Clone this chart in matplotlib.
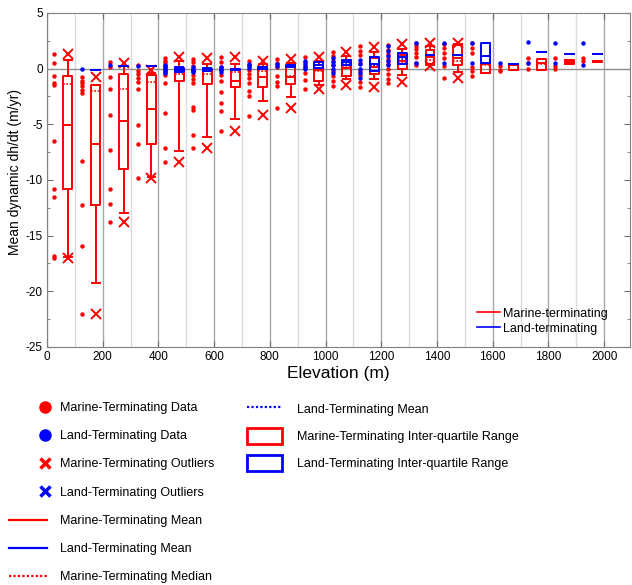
import matplotlib
matplotlib.use("Agg")
import matplotlib.pyplot as plt
from matplotlib.lines import Line2D
from matplotlib.patches import Rectangle
from matplotlib.legend_handler import HandlerLine2D
from matplotlib.ticker import MultipleLocator

plt.rcParams['font.family'] = ['Liberation Sans', 'DejaVu Sans']
plt.rcParams['axes.unicode_minus'] = False

# bins of 100 m, 0-2000
bin_starts = list(range(0, 2000, 100))

# individual glacier values per bin (marine / land)
marine_data = [
    [1.35, 0.5, -0.65, -1.3, -1.5, -6.5, -10.8, -11.5, -16.85, -17.0],
    [-0.8, -1.1, -1.3, -1.6, -1.9, -2.2, -8.3, -12.3, -15.95, -22.0],
    [0.55, 0.15, -0.8, -1.8, -4.2, -7.3, -10.85, -12.2, -13.8],
    [0.3, -0.2, -0.5, -0.85, -1.25, -1.85, -5.1, -6.8, -9.8],
    [0.95, 0.7, 0.5, 0.25, 0.0, -0.3, -0.55, -1.3, -3.95, -7.1, -8.4],
    [0.9, 0.55, 0.2, -0.2, -0.55, -0.9, -1.3, -3.45, -3.75, -5.95, -7.1],
    [1.0, 0.6, 0.1, -0.55, -1.15, -2.1, -3.1, -3.85, -5.6],
    [0.65, 0.3, -0.1, -0.45, -0.85, -1.3, -2.05, -2.45, -4.25],
    [0.9, 0.5, 0.1, -0.7, -1.2, -1.55, -3.5],
    [1.0, 0.6, 0.2, -0.4, -1.0, -1.8],
    [1.5, 1.1, 0.7, 0.3, -0.2, -0.7, -1.1, -1.6],
    [2.0, 1.6, 1.2, 0.5, -0.2, -0.6, -1.2, -1.7],
    [2.1, 1.7, 1.3, 0.9, 0.4, 0.0, -0.5, -0.9, -1.3],
    [2.3, 2.05, 1.8, 1.4, 1.0, 0.5, 0.3],
    [2.2, 1.85, 1.4, 0.95, 0.2, -0.85],
    [2.3, 1.85, 1.4, 0.1, -0.25, -0.7],
    [0.2, -0.1, -0.25],
    [0.95, 0.5, 0.0],
    [0.95, 0.2, -0.05],
    [0.95, 0.65],
]
land_data = [
    [],
    [-0.05],
    [0.3],
    [0.25],
    [0.35, 0.2, 0.05, -0.1, -0.25, -0.4],
    [0.1, 0.0, -0.1, -0.2, -0.35],
    [0.15, 0.0, -0.15, -0.35],
    [0.4, 0.2, 0.05],
    [0.45, 0.25],
    [0.65, 0.4, 0.15, 0.0],
    [0.95, 0.6, 0.3, 0.0, -0.4],
    [0.8, 0.4, 0.0, -0.4, -0.85],
    [2.0, 1.6, 1.1, 0.7, 0.35],
    [2.3, 0.5],
    [2.25, 0.5],
    [2.3, 0.5],
    [0.5],
    [2.35, 0.5],
    [2.3, 0.5],
    [2.25, 0.35],
]

# marine box statistics per bin
m_q1 = [-10.8, -12.25, -9.05, -6.8, -1.1, -1.4, -1.65, -1.65, -1.4, -1.1,
        -0.7, -0.5, -0.05, 0.45, 0.35, -0.4, -0.1, -0.1, 0.45, 0.6]
m_q3 = [-0.7, -1.5, -0.5, -0.55, 0.0, -0.05, 0.0, 0.1, 0.2, 0.35,
        0.8, 0.95, 1.25, 1.65, 2.1, 0.5, 0.45, 0.9, 0.75, 0.68]
m_med = [-1.4, -2.0, -1.8, -1.2, -0.5, -0.45, -0.3, -0.2, -0.7, -0.2,
         0.15, 0.2, 0.5, 0.8, 0.65, 0.3, 0.3, 0.45, 0.6, 0.63]
m_mean = [-5.1, -6.8, -4.7, -3.6, -0.2, -0.15, -1.1, -0.8, -0.75, -0.1,
          0.05, 0.1, 0.7, 1.0, 0.95, 0.45, 0.35, 0.5, 0.6, 0.63]
m_lo = [-16.9, -19.25, -13.0, -9.75, -7.45, -6.15, -4.5, -2.9, -2.6, -1.45,
        -0.9, -0.9, -0.6, 0.3, -0.35, -0.4, -0.1, -0.1, 0.45, 0.6]
m_hi = [0.8, -1.5, 0.25, -0.4, 0.7, 0.45, 0.45, 0.4, 0.5, 0.7,
        1.1, 1.45, 1.8, 2.0, 2.2, 0.5, 0.45, 0.9, 0.75, 0.68]
m_out = [[1.35, -17.0], [-0.75, -22.0], [0.5, -13.8], [-0.15, -9.85],
         [1.05, -8.4], [0.95, -7.1], [1.0, -5.6], [0.7, -4.2],
         [0.9, -3.55], [1.05, -1.8], [1.45, -1.45], [1.95, -1.65],
         [2.2, -1.2], [2.3, 0.2], [2.3, -0.85], [], [], [], [], []]

# land box statistics (bins 1-19)
l_bins = list(range(1, 20))
l_q1 = [-0.1, 0.25, 0.2, -0.2, -0.15, -0.1, 0.0, 0.1, 0.05, 0.35,
        -0.25, 0.45, 1.25, 1.2, 0.5, 0.45, 1.45, 1.35, 1.35]
l_q3 = [-0.1, 0.25, 0.2, 0.05, 0.0, 0.0, 0.15, 0.3, 0.6, 0.8,
        1.05, 1.4, 1.25, 1.2, 2.25, 0.45, 1.45, 1.35, 1.35]
l_med = [-0.1, 0.25, 0.2, -0.05, -0.05, -0.05, 0.05, 0.2, 0.3, 0.5,
         0.35, 0.85, 1.25, 1.2, 1.1, 0.45, 1.45, 1.35, 1.35]
l_mean = [-0.1, 0.25, 0.2, -0.05, -0.05, -0.05, 0.1, 0.2, 0.35, 0.6,
          0.45, 1.0, 1.25, 1.2, 1.15, 0.45, 1.45, 1.35, 1.35]
l_lo = [-0.1, 0.25, 0.2, -0.3, -0.2, -0.15, 0.0, 0.1, 0.05, 0.35,
        -0.25, 0.45, 1.25, 1.2, 0.5, 0.45, 1.45, 1.35, 1.35]
l_hi = [-0.1, 0.25, 0.2, 0.1, 0.05, 0.0, 0.15, 0.3, 0.6, 0.8,
        1.05, 1.4, 1.25, 1.2, 2.25, 0.45, 1.45, 1.35, 1.35]

RED = '#ff0000'
BLUE = '#0000ff'

fig = plt.figure(figsize=(6.32, 5.85), dpi=100)
ax = fig.add_axes([0.0744, 0.407, 0.9225, 0.571])

# grid
ax.set_xlim(0, 2093)
ax.set_ylim(-25, 5)
ax.xaxis.set_major_locator(MultipleLocator(200))
ax.xaxis.set_minor_locator(MultipleLocator(100))
ax.yaxis.set_major_locator(MultipleLocator(5))
ax.yaxis.set_minor_locator(MultipleLocator(2.5))
ax.grid(True, axis='x', which='major', color='#a8a8a8', lw=1.0)
ax.grid(True, axis='x', which='minor', color='#dcdcdc', lw=1.0)
ax.set_axisbelow(True)
ax.axhline(0, color='#909090', lw=1.0, zorder=1)

# individual data
for i, b in enumerate(bin_starts):
    vals = marine_data[i]
    ax.plot([b + 25] * len(vals), vals, 'o', color=RED, ms=3.2, mec='none', zorder=3)
for i, b in enumerate(bin_starts):
    vals = land_data[i]
    if vals:
        ax.plot([b + 25] * len(vals), vals, 'o', color=BLUE, ms=3.2, mec='none', zorder=4)


def make_stats(q1, q3, med, mean, lo, hi, out=None):
    st = []
    for k in range(len(q1)):
        st.append(dict(q1=q1[k], q3=q3[k], med=med[k], mean=mean[k],
                       whislo=lo[k], whishi=hi[k],
                       fliers=out[k] if out else []))
    return st


def draw_boxes(stats, pos, col, z):
    ax.bxp(stats, positions=pos, widths=32, capwidths=28, showmeans=True,
           meanline=True, manage_ticks=False, zorder=z,
           boxprops=dict(color=col, lw=1.4),
           whiskerprops=dict(color=col, lw=1.4, ls='-'),
           capprops=dict(color=col, lw=1.4),
           medianprops=dict(color=col, lw=1.2, ls=(0, (1, 1))),
           meanprops=dict(color=col, lw=1.4, ls='-'),
           flierprops=dict(marker='x', mec=col, ms=7, mew=1.4, ls='none'))


draw_boxes(make_stats(m_q1, m_q3, m_med, m_mean, m_lo, m_hi, m_out),
           [b + 75 for b in bin_starts], RED, 5)
draw_boxes(make_stats(l_q1, l_q3, l_med, l_mean, l_lo, l_hi),
           [bin_starts[k] + 75 for k in l_bins], BLUE, 6)

ax.tick_params(which='both', direction='in', top=True, right=True,
               labelsize=8.5, color='#707070', pad=3)
ax.tick_params(which='major', length=4)
ax.tick_params(which='minor', length=2.5)
ax.tick_params(axis='x', which='minor', length=0)
for s in ax.spines.values():
    s.set_color('#808080')
ax.set_xticks(range(0, 2001, 200))
ax.set_xlabel('Elevation (m)', fontsize=12.5, labelpad=2)
ax.set_ylabel('Mean dynamic dh/dt (m/yr)', fontsize=10)
ax.yaxis.set_label_coords(-0.043, 0.524)

inner = [Line2D([], [], color=RED, lw=1.2), Line2D([], [], color=BLUE, lw=1.2)]
ax.legend(inner, ['Marine-terminating', 'Land-terminating'], loc='upper left',
          bbox_to_anchor=(0.729, 0.132), borderaxespad=0, frameon=False,
          fontsize=9, handlelength=1.84, handletextpad=0.24, labelspacing=0.24)

# key below the plot
dot_r = Line2D([], [], ls='none', marker='o', color=RED, ms=8)
dot_b = Line2D([], [], ls='none', marker='o', color=BLUE, ms=8)
x_r = Line2D([], [], ls='none', marker='x', color=RED, ms=7, mew=2.5)
x_b = Line2D([], [], ls='none', marker='x', color=BLUE, ms=7, mew=2.5)
left_h = [
    dot_r, dot_b, x_r, x_b,
    Line2D([], [], color=RED, lw=1.6),
    Line2D([], [], color=BLUE, lw=1.6),
    Line2D([], [], color=RED, lw=1.6, ls=(0, (1, 1))),
]
left_l = ['Marine-Terminating Data', 'Land-Terminating Data',
          'Marine-Terminating Outliers', 'Land-Terminating Outliers',
          'Marine-Terminating Mean', 'Land-Terminating Mean',
          'Marine-Terminating Median']
# markers sit at the right end of the key slot
shifted = {h: HandlerLine2D(numpoints=1, xpad=2.72) for h in (dot_r, dot_b, x_r, x_b)}
fig.legend(left_h, left_l, loc='upper left', bbox_to_anchor=(0.0063, 0.3214),
           borderaxespad=0, frameon=False, fontsize=9, handlelength=3.04,
           handletextpad=1.04, labelspacing=1.3, handler_map=shifted)

right_h = [
    Line2D([], [], color=BLUE, lw=1.6, ls=(0, (1, 1))),
    Rectangle((0, 0), 1, 1, fc='white', ec=RED, lw=2),
    Rectangle((0, 0), 1, 1, fc='white', ec=BLUE, lw=2),
]
right_l = ['Land-Terminating Mean', 'Marine-Terminating Inter-quartile Range',
           'Land-Terminating Inter-quartile Range']
fig.legend(right_h, right_l, loc='upper left', bbox_to_anchor=(0.383, 0.324),
           borderaxespad=0, frameon=False, fontsize=9, handlelength=2.8,
           handleheight=1.65, handletextpad=1.2, labelspacing=0.85)

fig.savefig('out.png', dpi=100)
